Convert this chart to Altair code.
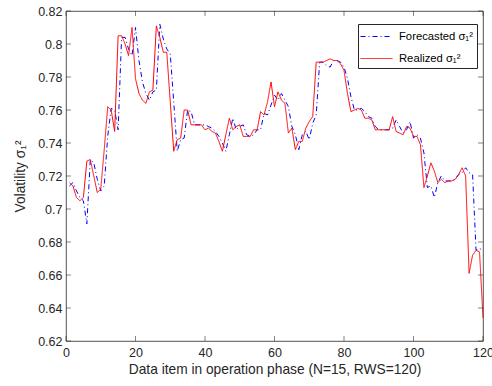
import altair as alt
import pandas as pd

X = list(range(1, 121))

REALIZED = [
    0.716, 0.714, 0.707, 0.705, 0.707, 0.729, 0.730, 0.720, 0.710, 0.712,
    0.736, 0.762, 0.760, 0.747, 0.805, 0.805, 0.800, 0.793, 0.810, 0.779,
    0.770, 0.766, 0.764, 0.771, 0.772, 0.811, 0.804, 0.795, 0.795, 0.765,
    0.735, 0.742, 0.743, 0.760, 0.760, 0.751, 0.751, 0.751, 0.751, 0.748,
    0.749, 0.747, 0.746, 0.741, 0.735, 0.745, 0.755, 0.748, 0.750, 0.751,
    0.744, 0.744, 0.744, 0.748, 0.748, 0.759, 0.757, 0.765, 0.777, 0.762,
    0.771, 0.766, 0.764, 0.746, 0.749, 0.736, 0.741, 0.741, 0.749, 0.753,
    0.756, 0.789, 0.789, 0.789, 0.790, 0.791, 0.790, 0.790, 0.788, 0.784,
    0.770, 0.759, 0.760, 0.761, 0.760, 0.755, 0.755, 0.754, 0.748, 0.748,
    0.748, 0.748, 0.748, 0.756, 0.747, 0.746, 0.745, 0.750, 0.749, 0.744,
    0.744, 0.739, 0.713, 0.720, 0.728, 0.723, 0.716, 0.718, 0.716, 0.717,
    0.717, 0.718, 0.721, 0.725, 0.720, 0.661, 0.672, 0.675, 0.674, 0.634,
]

FORECASTED = [
    0.714, 0.716, 0.711, 0.707, 0.705, 0.691, 0.730, 0.728, 0.718, 0.711,
    0.714, 0.744, 0.761, 0.760, 0.748, 0.804, 0.804, 0.797, 0.793, 0.810,
    0.790, 0.777, 0.770, 0.766, 0.771, 0.772, 0.812, 0.803, 0.797, 0.794,
    0.765, 0.735, 0.742, 0.743, 0.760, 0.759, 0.751, 0.751, 0.751, 0.751,
    0.750, 0.749, 0.747, 0.744, 0.740, 0.735, 0.745, 0.755, 0.748, 0.750,
    0.751, 0.745, 0.744, 0.745, 0.748, 0.748, 0.758, 0.757, 0.763, 0.769,
    0.766, 0.770, 0.766, 0.762, 0.750, 0.745, 0.736, 0.745, 0.747, 0.742,
    0.752, 0.757, 0.789, 0.789, 0.787, 0.786, 0.790, 0.790, 0.789, 0.786,
    0.779, 0.768, 0.760, 0.760, 0.761, 0.759, 0.756, 0.755, 0.750, 0.748,
    0.748, 0.748, 0.748, 0.749, 0.754, 0.750, 0.746, 0.748, 0.753, 0.743,
    0.745, 0.743, 0.734, 0.713, 0.714, 0.707, 0.716, 0.720, 0.717, 0.717,
    0.717, 0.718, 0.721, 0.722, 0.725, 0.722, 0.721, 0.675, 0.676, 0.675,
]

XTICKS = [0, 20, 40, 60, 80, 100, 120]
YTICKS = [0.62, 0.64, 0.66, 0.68, 0.70, 0.72, 0.74, 0.76, 0.78, 0.80, 0.82]
SERIES = ["Forecasted σ₁²", "Realized σ₁²"]
COLORS = ["#0000ff", "#ff0000"]

FONT = "Liberation Sans"
INK = "#262626"

df = pd.DataFrame({
    "x": X * 2,
    "v": FORECASTED + REALIZED,
    "s": [SERIES[0]] * len(X) + [SERIES[1]] * len(X),
})

xs = alt.Scale(domain=[0, 120], nice=False, zero=False)
ys = alt.Scale(domain=[0.62, 0.82], nice=False, zero=False)

xaxis = alt.Axis(
    values=XTICKS, title="Data item in operation phase (N=15, RWS=120)",
    grid=False, domain=False, ticks=False, labelPadding=5, titlePadding=4,
    labelFlush=False,
)
yaxis = alt.Axis(
    values=YTICKS, format=".2~f", title="Volatility σ₁²",
    grid=False, domain=False, ticks=False, labelPadding=4, titlePadding=10,
    labelFlush=False,
)

leg = alt.Legend(
    title=None,
    orient="none",
    legendX=292,
    legendY=13,
    strokeColor=INK,
    fillColor="white",
    padding=4,
    symbolType="M-2,0L2,0",
    symbolSize=256,
    symbolStrokeWidth=1,
    symbolOffset=6,
    labelOffset=14,
    labelFont=FONT,
    labelFontSize=11.25,
    labelColor="#000000",
    rowPadding=8,
    cornerRadius=0,
)

lines = alt.Chart(df).mark_line(strokeWidth=1).encode(
    x=alt.X("x:Q", scale=xs, axis=xaxis),
    y=alt.Y("v:Q", scale=ys, axis=yaxis),
    color=alt.Color("s:N", scale=alt.Scale(domain=SERIES, range=COLORS), legend=leg),
    strokeDash=alt.StrokeDash("s:N", scale=alt.Scale(domain=SERIES, range=[[5, 3, 1, 3], [1, 0]]), legend=leg),
    detail="s:N",
    order="x:Q",
)

xt_lo = pd.DataFrame({"x": XTICKS, "v": [0.62] * len(XTICKS)})
xt_hi = pd.DataFrame({"x": XTICKS, "v": [0.82] * len(XTICKS)})
yt_lo = pd.DataFrame({"v": YTICKS, "x": [0] * len(YTICKS)})
yt_hi = pd.DataFrame({"v": YTICKS, "x": [120] * len(YTICKS)})

tick_style = dict(color=INK, size=5, thickness=0.8)


def ticks(data, orient, dx=0, dy=0):
    return alt.Chart(data).mark_tick(orient=orient, xOffset=dx, yOffset=dy, **tick_style).encode(
        x=alt.X("x:Q", scale=xs, axis=xaxis),
        y=alt.Y("v:Q", scale=ys, axis=yaxis),
    )


t_bottom = ticks(xt_lo, "vertical", dy=-2.5)
t_top = ticks(xt_hi, "vertical", dy=2.5)
t_left = ticks(yt_lo, "horizontal", dx=2.5)
t_right = ticks(yt_hi, "horizontal", dx=-2.5)

chart = alt.layer(lines, t_bottom, t_top, t_left, t_right).properties(
    width=417,
    height=330,
    padding={"left": 66, "top": 11, "right": 9, "bottom": 45},
    autosize=alt.AutoSizeParams(type="none"),
    background="white",
).configure_view(
    stroke=INK, strokeWidth=0.8,
).configure_axis(
    labelFont=FONT, labelFontSize=12.5, labelColor=INK,
    titleFont=FONT, titleFontSize=13.75, titleColor=INK, titleFontWeight="normal",
)

chart.save("out.html", embed_options={"renderer": "svg", "actions": False})
